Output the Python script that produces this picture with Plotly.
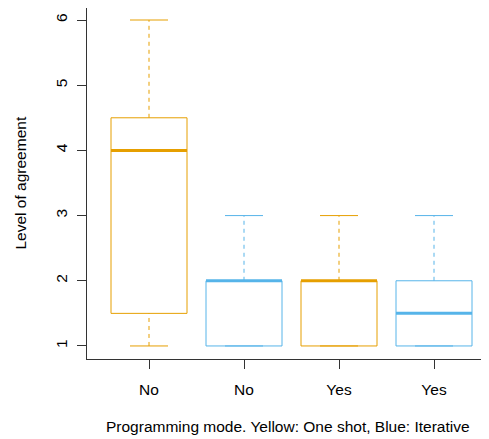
import plotly.graph_objects as go

# Data
categories = ["No", "No", "Yes", "Yes"]
groups = ["One shot", "Iterative", "One shot", "Iterative"]
lower_whisker = [1, 1, 1, 1]
q1 = [1.5, 1, 1, 1]
median = [4, 2, 2, 1.5]
q3 = [4.5, 2, 2, 2]
upper_whisker = [6, 3, 3, 3]
y_ticks = [1, 2, 3, 4, 5, 6]

ORANGE = "#E69F00"
BLUE = "#56B4E9"
colors = {"One shot": ORANGE, "Iterative": BLUE}

BOX_W = 0.8
CAP_W = BOX_W * 0.5

fig = go.Figure()
positions = list(range(1, len(categories) + 1))
for x, g, lo, a, m, b, hi in zip(positions, groups, lower_whisker, q1, median, q3, upper_whisker):
    c = colors[g]
    h = BOX_W / 2
    ch = CAP_W / 2
    # whiskers (dashed)
    fig.add_trace(go.Scatter(x=[x, x, None, x, x], y=[lo, a, None, b, hi], mode="lines",
                             line=dict(color=c, width=1, dash="4px,4px"), hoverinfo="skip", showlegend=False))
    # caps
    fig.add_trace(go.Scatter(x=[x - ch, x + ch, None, x - ch, x + ch], y=[lo, lo, None, hi, hi], mode="lines",
                             line=dict(color=c, width=1), hoverinfo="skip", showlegend=False))
    # box
    fig.add_trace(go.Scatter(x=[x - h, x + h, x + h, x - h, x - h], y=[a, a, b, b, a], mode="lines",
                             line=dict(color=c, width=1), hoverinfo="skip", showlegend=False))
    # median
    fig.add_trace(go.Scatter(x=[x - h, x + h], y=[m, m], mode="lines",
                             line=dict(color=c, width=3), hoverinfo="skip", showlegend=False))

FONT = "Liberation Sans, Arial, sans-serif"
# page body adds an 8px offset, so the figure is sized to fit the 489x439 window
fig.update_layout(
    width=481, height=431,
    margin=dict(l=79, r=0, t=0, b=80, autoexpand=False),
    plot_bgcolor="white", paper_bgcolor="white",
    font=dict(family=FONT, size=15.5, color="black"),
    showlegend=False,
)
fig.update_xaxes(
    range=[0.3474, 4.579], tickvals=positions, ticktext=categories,
    showgrid=False, zeroline=False, showline=True, linecolor="#333", linewidth=1, mirror=True,
    ticks="outside", ticklen=9, tickcolor="#333", tickwidth=1, ticklabelstandoff=7,
)
fig.update_yaxes(
    range=[0.8, 6.184], tickvals=y_ticks, tickangle=-90,
    showgrid=False, zeroline=False, showline=True, linecolor="#333", linewidth=1, mirror=False,
    ticks="outside", ticklen=9, tickcolor="#333", tickwidth=1, ticklabelstandoff=4,
)
fig.add_annotation(text="Programming mode. Yellow: One shot, Blue: Iterative",
                   xref="paper", yref="paper", x=0.5, y=0, yshift=-67, yanchor="middle",
                   showarrow=False, font=dict(size=15.5))
fig.add_annotation(text="Level of agreement", textangle=-90,
                   xref="paper", yref="paper", x=0, y=0.5, xshift=-67, xanchor="center",
                   showarrow=False, font=dict(size=15.5))
fig.write_html("out.html")
